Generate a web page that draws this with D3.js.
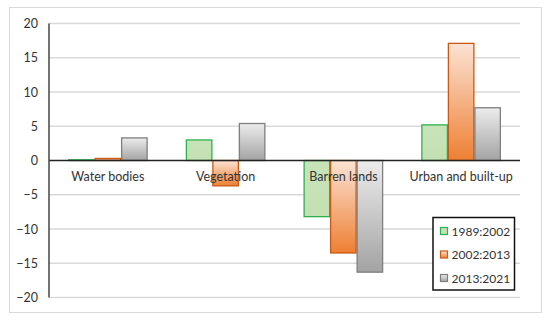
<!DOCTYPE html>
<html><head><meta charset="utf-8">
<script src="https://cdn.jsdelivr.net/npm/d3@7"></script>
<style>body{margin:0;background:#fff}svg{display:block}text{font-family:Lato,"Open Sans",sans-serif;fill:#333}</style>
</head><body><svg id="c" width="550" height="321"></svg>
<script>
const categories = ["Water bodies","Vegetation","Barren lands","Urban and built-up"];
const seriesNames = ["1989:2002","2002:2013","2013:2021"];
const s1989_2002 = [0.1, 3.0, -8.2, 5.2];
const s2002_2013 = [0.3, -3.7, -13.5, 17.1];
const s2013_2021 = [3.3, 5.4, -16.3, 7.7];
const yTicks = [-20,-15,-10,-5,0,5,10,15,20];

const series = [s1989_2002, s2002_2013, s2013_2021];
const svg = d3.select("#c");
const x0 = d3.scaleBand().domain(categories).range([49,520]).paddingInner(0.325).paddingOuter(0.1625);
const x1 = d3.scaleBand().domain(seriesNames).range([0,x0.bandwidth()]);
const y = d3.scaleLinear().domain([-20,20]).range([297.5,23.5]);

// outer border
svg.append("rect").attr("x",9.5).attr("y",7.5).attr("width",532).attr("height",305).attr("fill","#fff").attr("stroke","#d9d9d9");

const defs = svg.append("defs");
const grads = [
  {id:"g0", top:"#c9e3b9", bot:"#c4e0b2", stroke:"#2db14e"},
  {id:"g1", top:"#fbe3d4", bot:"#ee7f33", stroke:"#c85a17"},
  {id:"g2", top:"#ececec", bot:"#a3a3a3", stroke:"#7f7f7f"}
];
grads.forEach(g=>{
  const lg = defs.append("linearGradient").attr("id",g.id).attr("x1",0).attr("y1",0).attr("x2",0).attr("y2",1);
  lg.append("stop").attr("offset","0%").attr("stop-color",g.top);
  lg.append("stop").attr("offset","100%").attr("stop-color",g.bot);
});

// grid
svg.append("g").selectAll("line").data(yTicks.filter(t=>t!==0)).join("line")
  .attr("x1",49).attr("x2",520).attr("y1",d=>y(d)).attr("y2",d=>y(d))
  .attr("stroke","#d9d9d9").attr("stroke-width",1.3);

// y axis
const ya = svg.append("g").attr("transform","translate(49,0)").call(d3.axisLeft(y).tickValues(yTicks).tickSize(0).tickPadding(11));
ya.select(".domain").remove();
ya.selectAll("text").style("font-size","12.5px").attr("fill","#333").style("font-family","Lato, 'Open Sans', sans-serif");

// bars
const gs = svg.append("g").selectAll("g").data(categories).join("g").attr("transform",d=>`translate(${x0(d)},0)`);
gs.selectAll("rect").data((c,i)=>series.map((s,k)=>({k, v:s[i]}))).join("rect")
  .attr("x",d=>x1(seriesNames[d.k])+0.5)
  .attr("width",x1.bandwidth()-1)
  .attr("y",d=>Math.min(y(d.v),y(0)))
  .attr("height",d=>Math.abs(y(d.v)-y(0)))
  .attr("fill",d=>`url(#${grads[d.k].id})`)
  .attr("stroke",d=>grads[d.k].stroke).attr("stroke-width",1.3);

// zero line & axis line
svg.append("line").attr("x1",49).attr("x2",520).attr("y1",y(0)).attr("y2",y(0)).attr("stroke","#222").attr("stroke-width",1.3);
svg.append("line").attr("x1",49).attr("x2",49).attr("y1",y(20)).attr("y2",y(-20)).attr("stroke","#444").attr("stroke-width",1.5);

// category labels
svg.append("g").selectAll("text").data(categories).join("text")
  .attr("x",d=>x0(d)+x0.bandwidth()/2).attr("y",181).attr("text-anchor","middle")
  .style("font-size","12.5px").text(d=>d);

// legend
const lg = svg.append("g");
lg.append("rect").attr("x",433).attr("y",217.5).attr("width",81.5).attr("height",72.5).attr("fill","#fff").attr("stroke","#111").attr("stroke-width",1.5);
const ly = [231, 254.5, 278];
seriesNames.forEach((n,k)=>{
  lg.append("rect").attr("x",440.5).attr("y",ly[k]-3.5).attr("width",7).attr("height",7)
    .attr("fill",`url(#${grads[k].id})`).attr("stroke",grads[k].stroke).attr("stroke-width",1.2);
  lg.append("text").attr("x",451.5).attr("y",ly[k]+4.5).style("font-size","12px").text(n);
});
</script></body></html>
